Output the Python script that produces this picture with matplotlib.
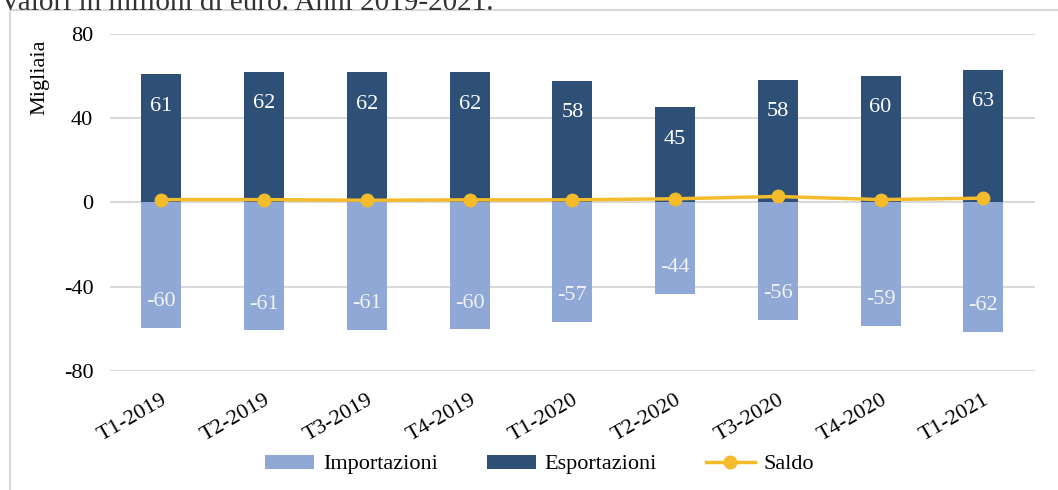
import matplotlib.pyplot as plt
from matplotlib.lines import Line2D
import numpy as np

plt.rcParams['font.family'] = ['Liberation Serif', 'DejaVu Serif']

# Trimestri
trimestri = ["T1-2019", "T2-2019", "T3-2019", "T4-2019", "T1-2020",
             "T2-2020", "T3-2020", "T4-2020", "T1-2021"]

# Valori (migliaia)
esportazioni = [60.8, 62.0, 61.8, 61.7, 57.8, 45.2, 58.2, 60.0, 63.0]
importazioni = [-59.5, -60.8, -60.7, -60.3, -56.8, -43.5, -55.6, -58.7, -61.5]
saldo = [1.3, 1.3, 1.0, 1.2, 1.2, 1.7, 2.8, 1.3, 2.0]

lab_esp = [61, 62, 62, 62, 58, 45, 58, 60, 63]
lab_imp = [-60, -61, -61, -60, -57, -44, -56, -59, -62]

c_esp = "#2E5077"
c_imp = "#8FA8D6"
c_saldo = "#F4BC2B"

fig = plt.figure(figsize=(10.58, 4.90), dpi=100)
ax = fig.add_axes([0.104, 0.243, 0.874, 0.688])

x = np.arange(len(trimestri))
b_imp = ax.bar(x, importazioni, width=0.39, color=c_imp, label="Importazioni", zorder=2)
b_esp = ax.bar(x, esportazioni, width=0.39, color=c_esp, label="Esportazioni", zorder=2)
ax.plot(x, saldo, color=c_saldo, lw=2.5, marker="o", ms=9, label="Saldo", zorder=3)

# etichette dentro le barre
for xi, v, l in zip(x, esportazioni, lab_esp):
    ax.annotate(str(l), (xi, v), xytext=(0, -23), textcoords="offset points",
                ha="center", va="center", color="white", fontsize=16)
for xi, v, l in zip(x, importazioni, lab_imp):
    ax.annotate(str(l), (xi, v), xytext=(0, 19), textcoords="offset points",
                ha="center", va="center", color="#F2F2F2", fontsize=16)

ax.set_xlim(-0.5, len(trimestri) - 0.5)
ax.set_ylim(-80, 80)
ax.set_yticks([-80, -40, 0, 40, 80])
ax.set_yticklabels(["-80", "-40", "0", "40", "80"], fontsize=16)
ax.set_xticks(x)
ax.set_xticklabels(trimestri, rotation=30, ha="right", rotation_mode="anchor", fontsize=16)
ax.tick_params(axis="both", length=0, pad=12)
ax.tick_params(axis="x", pad=14)
ax.grid(axis="y", color="#D9D9D9", lw=1.5, zorder=0)
ax.set_axisbelow(True)
for s in ax.spines.values():
    s.set_visible(False)

fig.text(0.038, 0.843, "Migliaia", rotation=90, ha="center", va="center", fontsize=16)

# titolo tagliato in alto
fig.text(0.0, 0.993, "Valori in milioni di euro. Anni 2019-2021.", ha="left", va="center",
         fontsize=21, color="#333333")

# cornice
fig.add_artist(Line2D([0.0095, 1.0], [0.98, 0.98], transform=fig.transFigure, color="#D9D9D9", lw=1.5))
fig.add_artist(Line2D([0.0095, 0.0095], [0.0, 0.98], transform=fig.transFigure, color="#D9D9D9", lw=1.5))

handles = [b_imp, b_esp, Line2D([0], [0], color=c_saldo, lw=2.5, marker="o", ms=9)]
fig.legend(handles, ["Importazioni", "Esportazioni", "Saldo"], loc="center",
           bbox_to_anchor=(0.51, 0.052), ncol=3, frameon=False, fontsize=16,
           handlelength=2.2, handleheight=0.6, columnspacing=2.2, handletextpad=0.4)

fig.savefig("out.png", dpi=100)
